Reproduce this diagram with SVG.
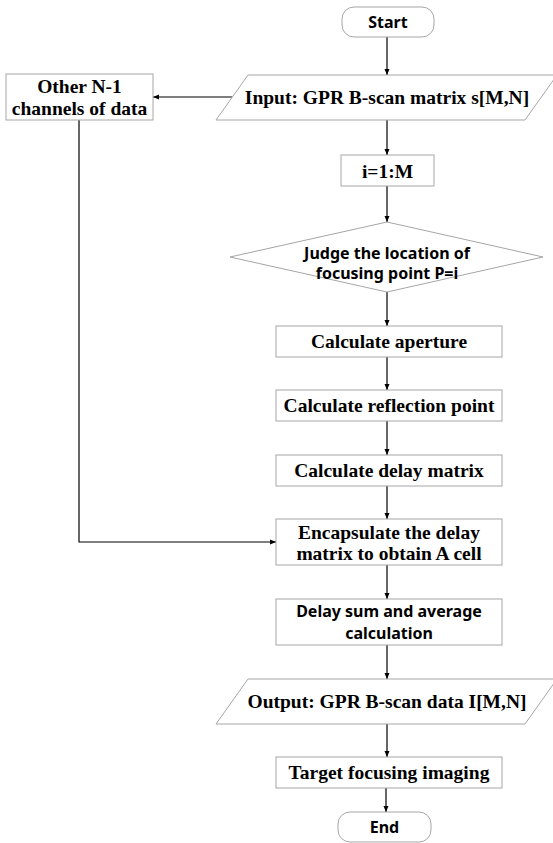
<svg xmlns="http://www.w3.org/2000/svg" width="553" height="843" viewBox="0 0 553 843">
<style>
.box{fill:#fff;stroke:#a6a6a6;stroke-width:1}
.t{font-family:"Liberation Serif","Times New Roman",serif;font-weight:bold;font-size:19.5px;fill:#000;text-anchor:middle}
.c{font-family:"Noto Sans","Open Sans",sans-serif;font-weight:bold;font-size:16px;fill:#000;text-anchor:middle}
.ln{fill:none;stroke:#000;stroke-width:1.2}
</style>
<defs>
<marker id="ah" markerWidth="6" markerHeight="6" refX="6" refY="3" orient="auto" markerUnits="userSpaceOnUse"><path d="M0,0.5 L6,3 L0,5.5 z" fill="#000"/></marker>
</defs>
<rect width="553" height="843" fill="#fff"/>
<g id="connectors">
<line class="ln" x1="387" y1="37" x2="387" y2="75" marker-end="url(#ah)"/>
<line class="ln" x1="232" y1="97" x2="153" y2="97" marker-end="url(#ah)"/>
<line class="ln" x1="387" y1="120" x2="387" y2="155" marker-end="url(#ah)"/>
<line class="ln" x1="387" y1="186" x2="387" y2="222" marker-end="url(#ah)"/>
<line class="ln" x1="387" y1="292" x2="387" y2="326" marker-end="url(#ah)"/>
<line class="ln" x1="387" y1="357" x2="387" y2="390" marker-end="url(#ah)"/>
<line class="ln" x1="387" y1="421" x2="387" y2="455" marker-end="url(#ah)"/>
<line class="ln" x1="387" y1="486" x2="387" y2="519" marker-end="url(#ah)"/>
<polyline class="ln" points="79,120 79,542 276,542" marker-end="url(#ah)"/>
<line class="ln" x1="387" y1="565" x2="387" y2="599" marker-end="url(#ah)"/>
<line class="ln" x1="387" y1="645" x2="387" y2="679" marker-end="url(#ah)"/>
<line class="ln" x1="387" y1="724" x2="387" y2="757" marker-end="url(#ah)"/>
<line class="ln" x1="386" y1="788" x2="386" y2="812" marker-end="url(#ah)"/>
</g>
<g id="start">
<rect class="box" x="342" y="7" width="92" height="30" rx="12"/>
<text class="c" x="388" y="28">Start</text>
</g>
<g id="input">
<polygon class="box" points="248,75 557,75 525,120 216,120"/>
<text class="t" x="387" y="104">Input: GPR B-scan matrix s[M,N]</text>
</g>
<g id="other">
<rect class="box" x="6" y="74" width="147" height="46"/>
<text class="t" x="79.5" y="93">Other N-1</text>
<text class="t" x="79.5" y="115">channels of data</text>
</g>
<g id="loop">
<rect class="box" x="341" y="155" width="93" height="31"/>
<text class="t" x="387.5" y="178">i=1:M</text>
</g>
<g id="judge">
<polygon class="box" points="387,222 543,257 387,292 230,257"/>
<text class="c" x="387" y="259">Judge the location of</text>
<text class="c" x="387" y="279">focusing point P=i</text>
</g>
<g id="aperture">
<rect class="box" x="276" y="326" width="226" height="31"/>
<text class="t" x="389" y="348">Calculate aperture</text>
</g>
<g id="reflection">
<rect class="box" x="276" y="390" width="226" height="31"/>
<text class="t" x="389" y="412">Calculate reflection point</text>
</g>
<g id="delay">
<rect class="box" x="276" y="455" width="226" height="31"/>
<text class="t" x="389" y="477">Calculate delay matrix</text>
</g>
<g id="encapsulate">
<rect class="box" x="276" y="519" width="226" height="46"/>
<text class="t" x="389" y="539">Encapsulate the delay</text>
<text class="t" x="389" y="560">matrix to obtain A cell</text>
</g>
<g id="delaysum">
<rect class="box" x="276" y="599" width="226" height="46"/>
<text class="c" x="389" y="617">Delay sum and average</text>
<text class="c" x="389" y="639">calculation</text>
</g>
<g id="output">
<polygon class="box" points="248,679 557,679 525,724 216,724"/>
<text class="t" x="387" y="708">Output: GPR B-scan data I[M,N]</text>
</g>
<g id="target">
<rect class="box" x="276" y="757" width="226" height="31"/>
<text class="t" x="389" y="779">Target focusing imaging</text>
</g>
<g id="end">
<rect class="box" x="338" y="812" width="93" height="30" rx="12"/>
<text class="c" x="384.5" y="833">End</text>
</g>
</svg>
